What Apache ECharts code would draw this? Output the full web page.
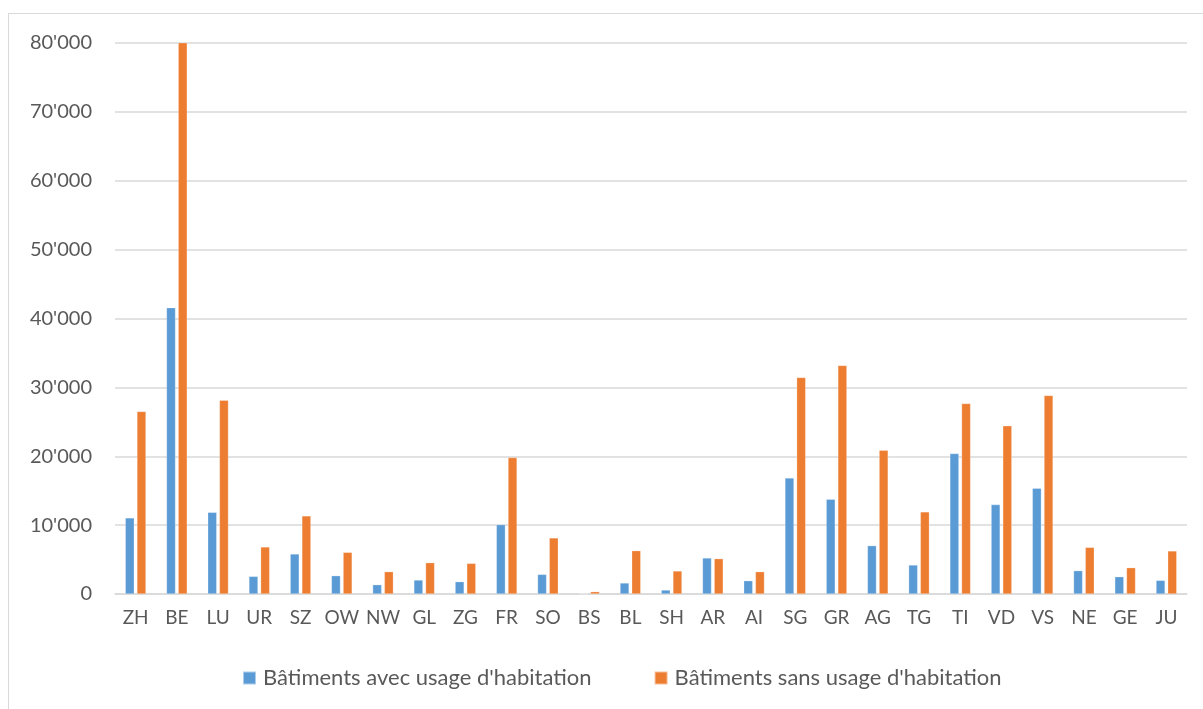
<!DOCTYPE html>
<html>
<head>
<meta charset="utf-8">
<script src="https://cdn.jsdelivr.net/npm/echarts@6/dist/echarts.min.js"></script>
<style>
  html, body { margin: 0; padding: 0; background: #fff; }
  #frame { position: absolute; left: 8px; top: 13px; width: 1200px; height: 700px; border: 1px solid #d9d9d9; box-sizing: border-box; }
  #chart { position: absolute; left: 0; top: 0; width: 1203px; height: 709px; }
</style>
</head>
<body>
<div id="frame"></div>
<div id="chart"></div>
<script>
var cantons = ['ZH','BE','LU','UR','SZ','OW','NW','GL','ZG','FR','SO','BS','BL','SH','AR','AI','SG','GR','AG','TG','TI','VD','VS','NE','GE','JU'];
var avecHabitation = [11050,41570,11860,2560,5810,2660,1350,2030,1790,10070,2850,60,1600,580,5230,1930,16860,13750,7020,4210,20390,12980,15350,3390,2510,1980];
var sansHabitation = [26500,80100,28140,6830,11340,6050,3240,4550,4450,19810,8140,340,6290,3340,5130,3240,31440,33180,20870,11920,27660,24420,28820,6770,3820,6250];
var legendNames = ["Bâtiments avec usage d'habitation", "Bâtiments sans usage d'habitation"];

var font = 'Lato, "Open Sans", sans-serif';

function fmt(v) {
    return String(v).replace(/\B(?=(\d{3})+(?!\d))/g, "'");
}

var myChart = echarts.init(document.getElementById('chart'));
var option = {
    animation: false,
    color: ['#5b9bd5', '#ed7d31'],
    textStyle: { fontFamily: font },
    grid: { left: 115, right: 16, top: 43, bottom: 115, containLabel: false },
    legend: {
        data: legendNames,
        bottom: 15,
        left: 237,
        itemWidth: 13,
        itemHeight: 13,
        itemGap: 62,
        icon: 'rect',
        textStyle: { fontSize: 22, color: '#595959', fontFamily: font, padding: [0, 0, 0, 2] }
    },
    xAxis: {
        type: 'category',
        data: cantons,
        axisLine: { lineStyle: { color: '#d9d9d9', width: 1.5 } },
        axisTick: { show: false },
        axisLabel: { interval: 0, fontSize: 19, color: '#595959', margin: 14, fontFamily: font }
    },
    yAxis: {
        type: 'value',
        min: 0,
        max: 80000,
        interval: 10000,
        axisLine: { show: false },
        axisTick: { show: false },
        splitLine: { lineStyle: { color: '#d9d9d9', width: 1.5 } },
        axisLabel: { fontSize: 20, color: '#595959', margin: 23, fontFamily: font, formatter: fmt }
    },
    series: [
        {
            name: legendNames[0],
            type: 'bar',
            data: avecHabitation,
            barWidth: 9,
            barGap: '30%',
            itemStyle: { borderColor: 'rgba(255,255,255,0.5)', borderWidth: 0.5 }
        },
        {
            name: legendNames[1],
            type: 'bar',
            data: sansHabitation,
            barWidth: 9,
            barGap: '30%',
            itemStyle: { borderColor: 'rgba(255,255,255,0.5)', borderWidth: 0.5 }
        }
    ]
};
myChart.setOption(option);
</script>
</body>
</html>
